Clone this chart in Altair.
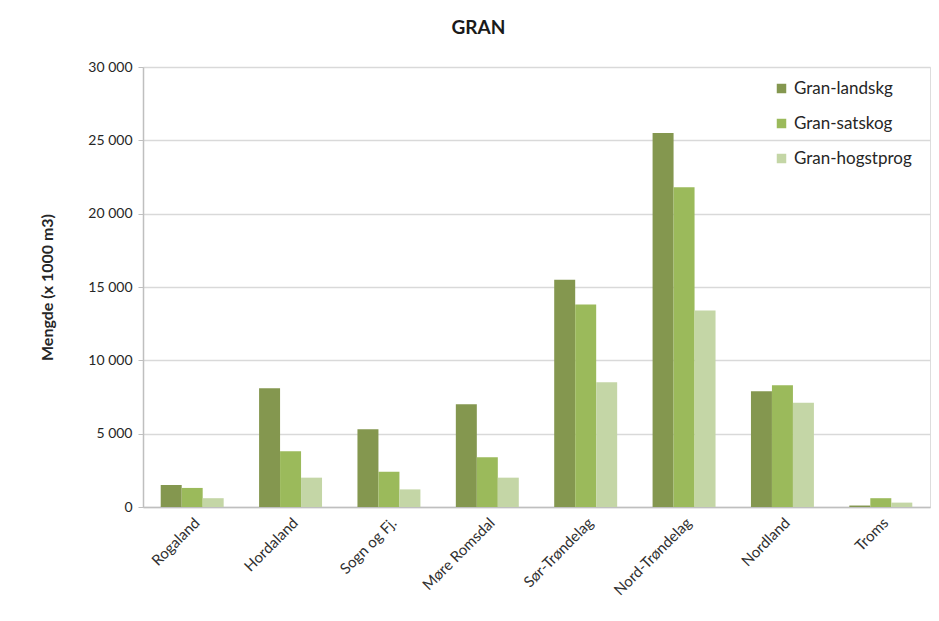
import altair as alt
import pandas as pd

# Counties along the x axis
fylker = ["Rogaland", "Hordaland", "Sogn og Fj.", "Møre Romsdal",
          "Sør-Trøndelag", "Nord-Trøndelag", "Nordland", "Troms"]

# Volume per series, in 1000 m3
landskog = [1500, 8100, 5300, 7000, 15500, 25500, 7900, 100]
satskog = [1300, 3800, 2400, 3400, 13800, 21800, 8300, 600]
hogstprog = [600, 2000, 1200, 2000, 8500, 13400, 7100, 300]

serier = ["Gran-landskg", "Gran-satskog", "Gran-hogstprog"]
farger = ["#84974f", "#9bba5b", "#c4d6a6"]

rows = []
for i, f in enumerate(fylker):
    for s, vals in zip(serier, [landskog, satskog, hogstprog]):
        rows.append({"Fylke": f, "Serie": s, "Mengde": vals[i]})
df = pd.DataFrame(rows)

FONT = "Lato"

chart = alt.Chart(df).mark_bar().encode(
    x=alt.X("Fylke:N", sort=fylker, title=None,
            scale=alt.Scale(paddingInner=0.36, paddingOuter=0.18),
            axis=alt.Axis(labelAngle=-45, labelFontSize=15, labelColor="#303030",
                          labelFont=FONT, ticks=False, domainColor="#bfbfbf",
                          domainWidth=1.5, labelPadding=8)),
    xOffset=alt.XOffset("Serie:N", sort=serier),
    y=alt.Y("Mengde:Q", title="Mengde (x 1000 m3)",
            scale=alt.Scale(domain=[0, 30000], nice=False),
            axis=alt.Axis(values=[0, 5000, 10000, 15000, 20000, 25000, 30000],
                          labelExpr="replace(format(datum.value, ','), ',', ' ')",
                          labelFontSize=14, labelColor="#262626", labelFont=FONT,
                          titleFontSize=16, titleFont=FONT, titleColor="#262626",
                          titleFontWeight="bold", titlePadding=32,
                          gridColor="#d9d9d9", gridWidth=1.5,
                          domainColor="#bfbfbf", domainWidth=1.5,
                          tickColor="#bfbfbf", tickSize=5, labelPadding=6)),
    color=alt.Color("Serie:N", sort=serier,
                    scale=alt.Scale(domain=serier, range=farger),
                    legend=alt.Legend(title=None, orient="none", legendX=630, legendY=13,
                                      symbolType="square", symbolSize=90,
                                      symbolStrokeWidth=0, labelFontSize=17,
                                      labelFont=FONT, labelColor="#262626",
                                      rowPadding=17, labelOffset=4)),
).properties(
    width=787,
    height=440,
    title=alt.TitleParams("GRAN", fontSize=19, font=FONT, fontWeight="bold",
                          color="#1a1a1a", anchor="middle", offset=22, dx=-58),
    autosize=alt.AutoSizeParams(type="none"),
    padding={"left": 143, "top": 67, "right": 9, "bottom": 114},
).configure_view(stroke=None).configure(background="white")

chart.save("out.html", embed_options={"renderer": "svg", "actions": False})
